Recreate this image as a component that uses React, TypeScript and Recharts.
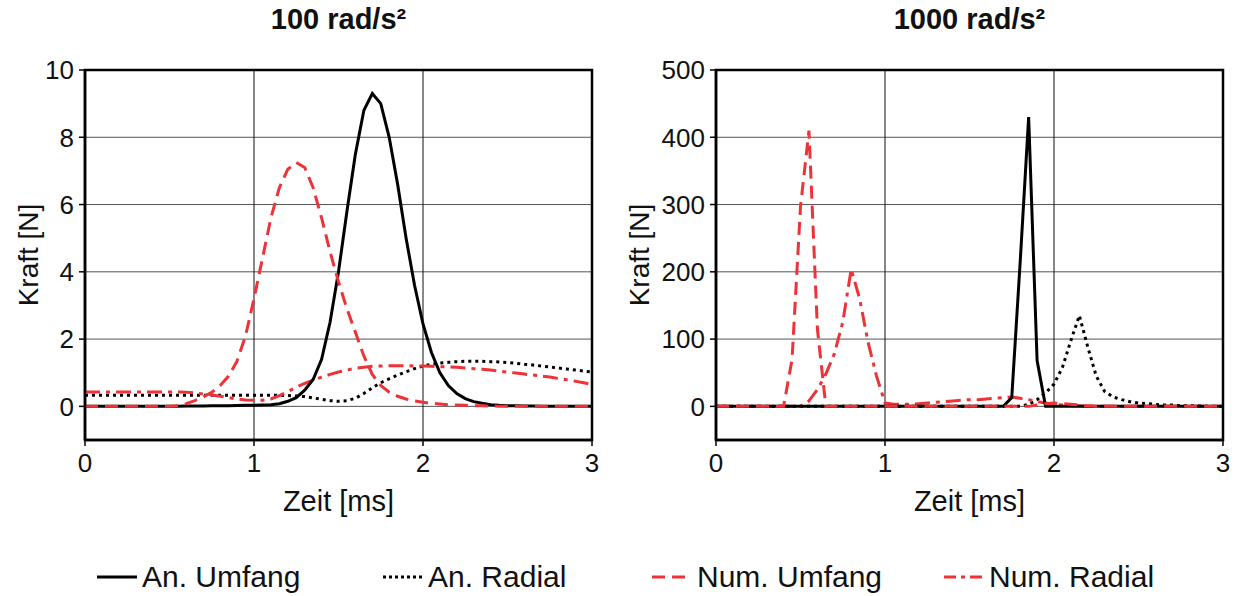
import React from "react";
import { CartesianGrid, Line, LineChart, ReferenceArea, XAxis, YAxis } from "recharts";

// Zeit [ms], shared by both panels
const zeit = [
  0, 0.05, 0.1, 0.15, 0.2, 0.25, 0.3, 0.35, 0.4, 0.45,
  0.5, 0.55, 0.6, 0.65, 0.7, 0.75, 0.8, 0.85, 0.9, 0.95,
  1, 1.05, 1.1, 1.15, 1.2, 1.25, 1.3, 1.35, 1.4, 1.45,
  1.5, 1.55, 1.6, 1.65, 1.7, 1.75, 1.8, 1.85, 1.9, 1.95,
  2, 2.05, 2.1, 2.15, 2.2, 2.25, 2.3, 2.35, 2.4, 2.45,
  2.5, 2.55, 2.6, 2.65, 2.7, 2.75, 2.8, 2.85, 2.9, 2.95,
  3,
];

// 100 rad/s²
const anUmfang100 = [
  0, 0, 0, 0, 0, 0, 0, 0, 0, 0,
  0.005, 0.005, 0.01, 0.01, 0.01, 0.015, 0.02, 0.02, 0.025, 0.03,
  0.03, 0.04, 0.05, 0.08, 0.15, 0.26, 0.48, 0.8, 1.4, 2.5,
  4.0, 5.8, 7.5, 8.8, 9.3, 9.0, 8.0, 6.6, 5.0, 3.6,
  2.45, 1.6, 1.0, 0.62, 0.38, 0.23, 0.14, 0.09, 0.05, 0.03,
  0.02, 0.015, 0.01, 0.01, 0.005, 0.005, 0, 0, 0, 0,
  0,
];
const anRadial100 = [
  0.33, 0.33, 0.33, 0.33, 0.33, 0.33, 0.33, 0.33, 0.33, 0.33,
  0.33, 0.33, 0.33, 0.33, 0.33, 0.33, 0.33, 0.33, 0.33, 0.33,
  0.33, 0.33, 0.33, 0.33, 0.32, 0.31, 0.29, 0.25, 0.21, 0.17,
  0.15, 0.17, 0.24, 0.38, 0.55, 0.7, 0.82, 0.93, 1.03, 1.12,
  1.2, 1.25, 1.29, 1.31, 1.33, 1.34, 1.34, 1.34, 1.33, 1.32,
  1.3, 1.28, 1.25, 1.23, 1.2, 1.17, 1.14, 1.11, 1.08, 1.05,
  1.02,
];
const numUmfang100 = [
  0, 0, 0, 0, 0, 0, 0, 0, 0, 0,
  0, 0.02, 0.08, 0.17, 0.28, 0.42, 0.62, 0.9, 1.35, 2.1,
  3.2, 4.4, 5.6, 6.5, 7.05, 7.25, 7.1, 6.5, 5.6, 4.6,
  3.7, 2.9, 2.2, 1.5, 0.95, 0.62, 0.42, 0.3, 0.22, 0.16,
  0.12, 0.09, 0.07, 0.05, 0.04, 0.03, 0.02, 0.015, 0.01, 0.005,
  0, 0, 0, 0, 0, 0, 0, 0, 0, 0,
  0,
];
const numRadial100 = [
  0.43, 0.43, 0.43, 0.43, 0.43, 0.43, 0.43, 0.43, 0.43, 0.43,
  0.43, 0.43, 0.42, 0.4, 0.37, 0.34, 0.3, 0.26, 0.22, 0.19,
  0.18, 0.18, 0.22, 0.32, 0.44, 0.57, 0.68, 0.78, 0.87, 0.95,
  1.02, 1.08, 1.13, 1.16, 1.19, 1.2, 1.21, 1.21, 1.21, 1.2,
  1.2, 1.19, 1.18, 1.17, 1.16, 1.14, 1.12, 1.1, 1.08, 1.05,
  1.02, 0.99, 0.96, 0.93, 0.9, 0.87, 0.83, 0.79, 0.75, 0.7,
  0.65,
];

// 1000 rad/s²
const anUmfang1000 = [
  0, 0, 0, 0, 0, 0, 0, 0, 0, 0,
  0, 0, 0, 0, 0, 0, 0, 0, 0, 0,
  0, 0, 0, 0, 0, 0, 0, 0, 0, 0,
  0, 0, 0, 0, 0, 13, 215, 430, 68, 0,
  0, 0, 0, 0, 0, 0, 0, 0, 0, 0,
  0, 0, 0, 0, 0, 0, 0, 0, 0, 0,
  0,
];
const anRadial1000 = [
  0, 0, 0, 0, 0, 0, 0, 0, 0, 0,
  0, 0, 0, 0, 0, 0, 0, 0, 0, 0,
  0, 0, 0, 0, 0, 0, 0, 0, 0, 0,
  0, 0, 0, 0, 0, 0, 0, 3, 10, 20,
  33, 58, 98, 135, 88, 45, 22, 14, 10, 7,
  5, 4, 3, 2, 2, 1, 1, 1, 0, 0,
  0,
];
const numUmfang1000 = [
  0, 0, 0, 0, 0, 0, 0, 0, 0, 70,
  297, 410, 115, 0, 0, 0, 0, 0, 0, 0,
  0, 0, 0, 0, 0, 0, 0, 0, 0, 0,
  0, 0, 0, 0, 0, 0, 0, 0, 2, 4,
  5, 4, 3, 2, 1, 0, 0, 0, 0, 0,
  0, 0, 0, 0, 0, 0, 0, 0, 0, 0,
  0,
];
const numRadial1000 = [
  0, 0, 0, 0, 0, 0, 0, 0, 0, 0,
  0, 8, 25, 48, 78, 125, 204, 160, 95, 45,
  5, 3, 3, 3, 4, 5, 6, 7, 8, 9,
  10, 10, 11, 12, 13, 14, 12, 10, 7, 5,
  3, 2, 1, 1, 0, 0, 0, 0, 0, 0,
  0, 0, 0, 0, 0, 0, 0, 0, 0, 0,
  0,
];

const xTicks = [0, 1, 2, 3];
const yTicks100 = [0, 2, 4, 6, 8, 10];
const yTicks1000 = [0, 100, 200, 300, 400, 500];

const RED = "#ee3237";
const FONT = "'Liberation Sans', Arial, sans-serif";

const build = (a: number[], b: number[], c: number[], d: number[]) =>
  zeit.map((t, i) => ({ t, anU: a[i], anR: b[i], numU: c[i], numR: d[i] }));

const data100 = build(anUmfang100, anRadial100, numUmfang100, numRadial100);
const data1000 = build(anUmfang1000, anRadial1000, numUmfang1000, numRadial1000);

const tickStyle = { fontSize: 26, fill: "#111", fontFamily: FONT };

type PanelProps = {
  data: any[];
  yMin: number;
  yMax: number;
  yTicks: number[];
  ml: number;
  labelX: number;
};

const Panel = ({ data, yMin, yMax, yTicks, ml, labelX }: PanelProps) => {
  const plotW = 507;
  const width = ml + 40 + plotW + 28;
  const midX = ml + 40 + plotW / 2;
  return (
    <LineChart width={width} height={540} data={data} margin={{ top: 70, right: 28, bottom: 40, left: ml }}>
      <CartesianGrid horizontal={true} vertical={false} stroke="#555" strokeWidth={1} />
      <CartesianGrid horizontal={false} vertical={true} stroke="#111" strokeWidth={1} />
      <ReferenceArea x1={0} x2={3} y1={yMin} y2={yMax} fill="none" stroke="#000" strokeWidth={2.5} />
      <XAxis
        dataKey="t"
        type="number"
        domain={[0, 3]}
        ticks={xTicks}
        height={60}
        tickSize={6}
        tickMargin={8}
        axisLine={{ stroke: "#000", strokeWidth: 2.5 }}
        tickLine={{ stroke: "#000", strokeWidth: 1.5 }}
        tick={tickStyle}
        label={() => (
          <text x={midX} y={511} textAnchor="middle" fontSize={29} fontFamily={FONT} fill="#111">
            Zeit [ms]
          </text>
        )}
      />
      <YAxis
        type="number"
        domain={[yMin, yMax]}
        ticks={yTicks}
        width={40}
        tickSize={6}
        tickMargin={5}
        axisLine={{ stroke: "#000", strokeWidth: 2.5 }}
        tickLine={{ stroke: "#000", strokeWidth: 1.5 }}
        tick={tickStyle}
        allowDataOverflow
        label={() => (
          <text
            x={labelX}
            y={255}
            transform={`rotate(-90 ${labelX} 255)`}
            textAnchor="middle"
            fontSize={28}
            fontFamily={FONT}
            fill="#111"
          >
            Kraft [N]
          </text>
        )}
      />
      <Line dataKey="anR" stroke="#000" strokeWidth={3} strokeDasharray="3 4" dot={false} isAnimationActive={false} />
      <Line dataKey="numR" stroke={RED} strokeWidth={3} strokeDasharray="15 6 4 6" dot={false} isAnimationActive={false} />
      <Line dataKey="anU" stroke="#000" strokeWidth={3} dot={false} isAnimationActive={false} />
      <Line dataKey="numU" stroke={RED} strokeWidth={3} strokeDasharray="13 7" dot={false} isAnimationActive={false} />
    </LineChart>
  );
};

const legendItems = [
  { name: "An. Umfang", color: "#000", dash: undefined as string | undefined, x: 97 },
  { name: "An. Radial", color: "#000", dash: "3 3", x: 383 },
  { name: "Num. Umfang", color: RED, dash: "13 7", x: 652 },
  { name: "Num. Radial", color: RED, dash: "12 5 4 5", x: 944 },
];

const titleStyle: React.CSSProperties = {
  position: "absolute",
  width: 507,
  top: 3,
  textAlign: "center",
  fontSize: 29,
  fontWeight: "bold",
  color: "#111",
};

export default function App() {
  return (
    <div style={{ position: "absolute", left: 0, top: 0, width: 1238, height: 596, background: "#fff", fontFamily: FONT }}>
      <div style={{ ...titleStyle, left: 85 }}>100 rad/s²</div>
      <div style={{ ...titleStyle, left: 716 }}>1000 rad/s²</div>
      <div style={{ position: "absolute", left: 0, top: 0 }}>
        <Panel data={data100} yMin={-1} yMax={10} yTicks={yTicks100} ml={45} labelX={38} />
      </div>
      <div style={{ position: "absolute", left: 600, top: 0 }}>
        <Panel data={data1000} yMin={-50} yMax={500} yTicks={yTicks1000} ml={76} labelX={49} />
      </div>
      {legendItems.map((it) => (
        <div key={it.name} style={{ position: "absolute", left: it.x, top: 559, display: "flex", alignItems: "center" }}>
          <svg width={42} height={36}>
            <line x1={0} y1={18} x2={40} y2={18} stroke={it.color} strokeWidth={3} strokeDasharray={it.dash} />
          </svg>
          <span style={{ fontSize: 30, color: "#111", marginLeft: 3, lineHeight: "36px" }}>{it.name}</span>
        </div>
      ))}
    </div>
  );
}
